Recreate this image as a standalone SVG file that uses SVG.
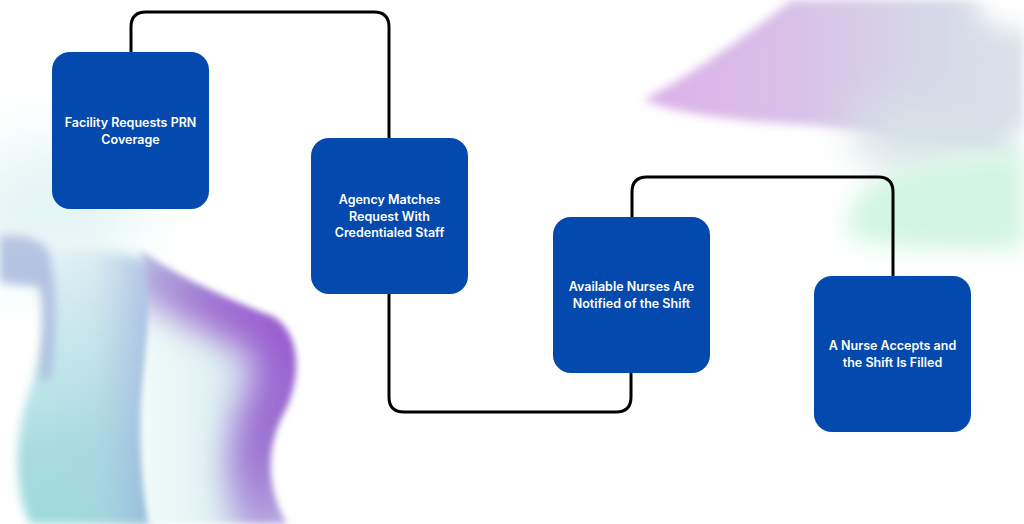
<svg xmlns="http://www.w3.org/2000/svg" width="1024" height="524" viewBox="0 0 1024 524">
<defs>
<style>
.box{fill:#0449ad}
.lbl{font-family:Inter,"Liberation Sans",sans-serif;font-weight:600;font-size:12.5px;fill:#ffffff;text-anchor:middle}
.conn{fill:none;stroke:#000000;stroke-width:3;stroke-linejoin:round}
</style>
<filter id="b3" x="-20%" y="-20%" width="140%" height="140%"><feGaussianBlur stdDeviation="3"/></filter>
<filter id="b5" x="-20%" y="-20%" width="140%" height="140%"><feGaussianBlur stdDeviation="5"/></filter>
<filter id="b12" x="-40%" y="-40%" width="180%" height="180%"><feGaussianBlur stdDeviation="12"/></filter>
<filter id="b16" x="-40%" y="-40%" width="180%" height="180%"><feGaussianBlur stdDeviation="16"/></filter>
<filter id="b20" x="-60%" y="-60%" width="220%" height="220%"><feGaussianBlur stdDeviation="20"/></filter>
<filter id="b30" x="-60%" y="-60%" width="220%" height="220%"><feGaussianBlur stdDeviation="30"/></filter>
<clipPath id="lobeClip">
<path d="M140,250 C175,275 230,300 272,316 C302,332 302,380 283,415 C264,452 268,492 287,524 L150,524 C140,480 138,420 145,370 C150,320 150,285 140,250 Z"/>
</clipPath>
<linearGradient id="gBody" x1="0" y1="240" x2="0" y2="524" gradientUnits="userSpaceOnUse">
<stop offset="0" stop-color="#eaf7f7"/>
<stop offset="0.35" stop-color="#cdebee"/>
<stop offset="0.75" stop-color="#a9dcdf"/>
<stop offset="1" stop-color="#9edcda"/>
</linearGradient>
<linearGradient id="gBodyH" x1="20" y1="0" x2="145" y2="0" gradientUnits="userSpaceOnUse">
<stop offset="0" stop-color="#a0d8e0" stop-opacity="0"/>
<stop offset="0.6" stop-color="#a8c4e2" stop-opacity="0.2"/>
<stop offset="1" stop-color="#9cb2e0" stop-opacity="0.7"/>
</linearGradient>
<linearGradient id="gLobe" x1="145" y1="0" x2="290" y2="0" gradientUnits="userSpaceOnUse">
<stop offset="0" stop-color="#f0faf9"/>
<stop offset="0.4" stop-color="#e2f4f4"/>
<stop offset="1" stop-color="#c0c4ea"/>
</linearGradient>
<linearGradient id="gRidge" x1="140" y1="250" x2="287" y2="524" gradientUnits="userSpaceOnUse">
<stop offset="0" stop-color="#b4bce0"/>
<stop offset="0.25" stop-color="#a072d2"/>
<stop offset="0.45" stop-color="#9a5ccf"/>
<stop offset="0.75" stop-color="#9c74d2"/>
<stop offset="1" stop-color="#b4a4de"/>
</linearGradient>
<linearGradient id="gPurp" x1="643" y1="0" x2="1024" y2="0" gradientUnits="userSpaceOnUse">
<stop offset="0" stop-color="#dcb0ea"/>
<stop offset="0.35" stop-color="#d9bee8"/>
<stop offset="0.7" stop-color="#d6d4e6"/>
<stop offset="1" stop-color="#d9e3e8"/>
</linearGradient>
</defs>
<rect width="1024" height="524" fill="#ffffff"/>
<g id="background">
<ellipse cx="50" cy="210" rx="90" ry="70" fill="#e4f5f5" filter="url(#b30)"/>
<path d="M0,238 C50,236 110,238 150,258 L160,290 C150,330 142,380 145,430 L150,524 L30,524 C14,490 14,440 28,395 C44,350 52,305 42,286 L0,283 Z" fill="url(#gBody)" filter="url(#b5)"/>
<path d="M40,250 C90,250 130,255 150,262 L158,300 C148,340 142,390 146,440 L150,524 L30,524 C14,490 14,440 28,395 C44,350 52,305 42,286 Z" fill="url(#gBodyH)" filter="url(#b5)"/>
<path d="M0,236 C20,234 40,238 48,250 C56,275 58,320 50,380 L40,380 C42,330 44,296 38,286 L0,282 Z" fill="#a2aedb" opacity="0.7" filter="url(#b5)"/>
<g filter="url(#b3)">
<g clip-path="url(#lobeClip)">
<rect x="130" y="240" width="180" height="290" fill="url(#gLobe)"/>
<path d="M140,250 C175,275 230,300 272,316 C302,332 302,380 283,415 C264,452 268,492 287,524" fill="none" stroke="url(#gRidge)" stroke-width="80" filter="url(#b16)"/>
</g>
</g>
<path d="M643,100 C680,82 740,40 792,0 L1024,0 L1024,160 C950,145 880,132 820,126 C760,122 690,118 643,100 Z" fill="url(#gPurp)" filter="url(#b5)"/>
<ellipse cx="1020" cy="0" rx="45" ry="30" fill="#ffffff" filter="url(#b12)"/>
<ellipse cx="1040" cy="150" rx="35" ry="22" fill="#ffffff" filter="url(#b12)"/>
<ellipse cx="920" cy="135" rx="70" ry="35" fill="#d6e2e6" filter="url(#b20)"/>
<path d="M850,215 C860,180 900,165 960,158 C1000,154 1024,150 1024,150 L1024,248 C980,250 900,250 862,240 C845,235 845,225 850,215 Z" fill="#d0f5e2" filter="url(#b12)"/>
</g>
<g id="connectors">
<path class="conn" d="M131,52 V27 Q131,12 146,12 H374 Q389,12 389,27 V138"/>
<path class="conn" d="M389,294 V397 Q389,412 404,412 H616 Q631,412 631,397 V373"/>
<path class="conn" d="M632,217 V192 Q632,177 647,177 H878 Q893,177 893,192 V276"/>
</g>
<g id="node1">
<rect class="box" x="52" y="52" width="157" height="157" rx="18"/>
<text class="lbl" x="130.5" y="127">Facility Requests PRN</text>
<text class="lbl" x="130.5" y="144">Coverage</text>
</g>
<g id="node2">
<rect class="box" x="311" y="138" width="157" height="156" rx="18"/>
<text class="lbl" x="389.5" y="204">Agency Matches</text>
<text class="lbl" x="389.5" y="221">Request With</text>
<text class="lbl" x="389.5" y="237">Credentialed Staff</text>
</g>
<g id="node3">
<rect class="box" x="553" y="217" width="157" height="156" rx="18"/>
<text class="lbl" x="631.5" y="291">Available Nurses Are</text>
<text class="lbl" x="631.5" y="308">Notified of the Shift</text>
</g>
<g id="node4">
<rect class="box" x="814" y="276" width="157" height="156" rx="18"/>
<text class="lbl" x="892.5" y="350">A Nurse Accepts and</text>
<text class="lbl" x="892.5" y="367">the Shift Is Filled</text>
</g>
</svg>
